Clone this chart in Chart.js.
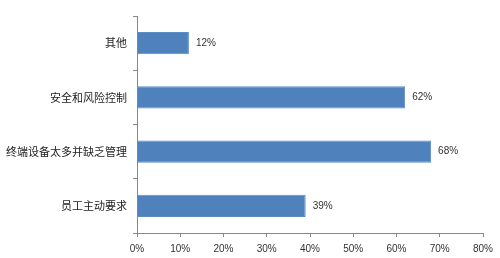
<!DOCTYPE html>
<html>
<head>
<meta charset="utf-8">
<script src="https://cdn.jsdelivr.net/npm/chart.js@4/dist/chart.umd.min.js"></script>
<style>
html,body{margin:0;padding:0;background:#fff;}
#wrap{width:500px;height:258px;position:relative;}
</style>
</head>
<body>
<div id="wrap"><canvas id="c" width="500" height="258"></canvas></div>
<script>
const categories = ["其他", "安全和风险控制", "终端设备太多并缺乏管理", "员工主动要求"];
const values = [12, 62, 68, 39];
const xTickMin = 0, xTickMax = 80, xTickStep = 10;

const valueLabels = {
  id: 'valueLabels',
  afterDatasetsDraw(chart) {
    const ctx = chart.ctx;
    const meta = chart.getDatasetMeta(0);
    ctx.save();
    ctx.font = '10px "Liberation Sans", Arial, sans-serif';
    ctx.fillStyle = '#333';
    ctx.textAlign = 'left';
    ctx.textBaseline = 'middle';
    meta.data.forEach((bar, i) => {
      ctx.fillText(values[i] + '%', bar.x + 7, bar.y);
    });
    ctx.restore();
  }
};

new Chart(document.getElementById('c'), {
  type: 'bar',
  data: {
    labels: categories,
    datasets: [{
      data: values,
      backgroundColor: '#4f81bd',
      borderColor: '#5c8cc4',
      borderWidth: 1,
      barPercentage: 0.41,
      categoryPercentage: 1.0
    }]
  },
  options: {
    indexAxis: 'y',
    responsive: false,
    animation: false,
    layout: { padding: { top: 16, right: 17, left: 0, bottom: 0 } },
    plugins: { legend: { display: false }, tooltip: { enabled: false } },
    scales: {
      x: {
        min: xTickMin, max: xTickMax,
        ticks: {
          stepSize: xTickStep,
          callback: v => v + '%',
          color: '#333',
          font: { family: '"Liberation Sans", Arial, sans-serif', size: 10 },
          padding: 6,
          maxRotation: 0
        },
        grid: { drawOnChartArea: false, drawTicks: true, tickLength: 4, color: '#888' },
        border: { display: true, color: '#888' },
        afterFit(s) { s.height = 25; }
      },
      y: {
        ticks: {
          color: '#222',
          font: { family: '"Noto Sans CJK SC", sans-serif', size: 11 },
          padding: 6
        },
        grid: { drawOnChartArea: false, drawTicks: true, tickLength: 4, color: '#888', offset: true },
        border: { display: true, color: '#888' },
        afterFit(s) { s.width = 137; }
      }
    }
  },
  plugins: [valueLabels]
});
</script>
</body>
</html>
